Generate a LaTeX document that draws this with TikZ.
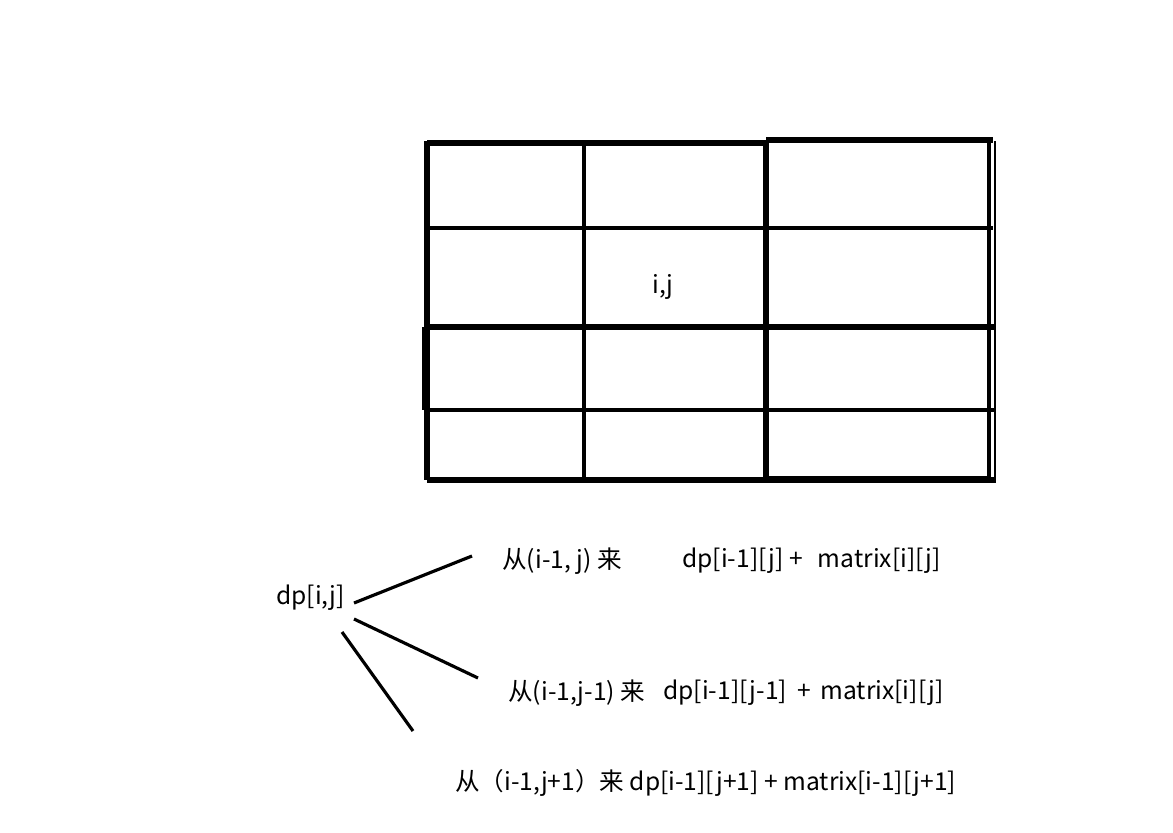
\documentclass[tikz,border=0pt]{standalone}
\usepackage{fontspec}
\setmainfont{Noto Sans CJK SC}
\begin{document}
\begin{tikzpicture}[x=0.02cm,y=-0.02cm,
  txt/.style={anchor=west,inner sep=0pt,font=\fontsize{14}{16}\selectfont},
  branch/.style={line width=1.8pt}]
 \useasboundingbox (0,0) rectangle (1173,832);
 % the table
 \draw[line width=2.9pt] (427,143)--(766,143);
 \draw[line width=2.9pt] (766,140)--(993,140);
 \draw[line width=2.7pt] (427,228)--(993,228);
 \draw[line width=3.4pt] (424,327)--(996,327);
 \draw[line width=2.3pt] (424,410)--(996,410);
 \draw[line width=2.9pt] (427,480)--(996,480);
 \draw[line width=3pt] (427,141)--(427,480);
 \draw[line width=3.2pt] (425,327)--(425,410);
 \draw[line width=2.1pt] (584,141)--(584,480);
 \draw[line width=3.1pt] (766,141)--(766,480);
 \draw[line width=2.4pt] (989,141)--(989,478);
 \draw[line width=1.3pt] (995,141)--(995,482);
 \draw[line width=1.2pt] (766,477)--(989,477);
 \node[txt,anchor=center] (cell) at (663,287) {i,j};
 % the three ways into dp[i,j]
 \node[txt] (dp) at (276,598) {dp[i,j]};
 \node[txt] (up) at (502,561) {从(i-1, j) 来};
 \node[txt] (upf) at (682,561) {dp[i-1][j] +\hspace{0.6em}matrix[i][j]};
 \node[txt] (left) at (508,693) {从(i-1,j-1) 来};
 \node[txt] (leftf) at (663,693) {dp[i-1][j-1]\hspace{0.4em}+\hspace{0.4em}matrix[i][j]};
 \node[txt] (right) at (455,783) {从（i-1,j+1）来 dp[i-1][j+1] + matrix[i-1][j+1]};
 \coordinate (a1) at (354,603); \coordinate (b1) at (472,556);
 \coordinate (a2) at (354,619); \coordinate (b2) at (478,678);
 \coordinate (a3) at (342,632); \coordinate (b3) at (413,731);
 \draw[branch] (a1)--(b1);
 \draw[branch] (a2)--(b2);
 \draw[branch] (a3)--(b3);
\end{tikzpicture}
\end{document}
